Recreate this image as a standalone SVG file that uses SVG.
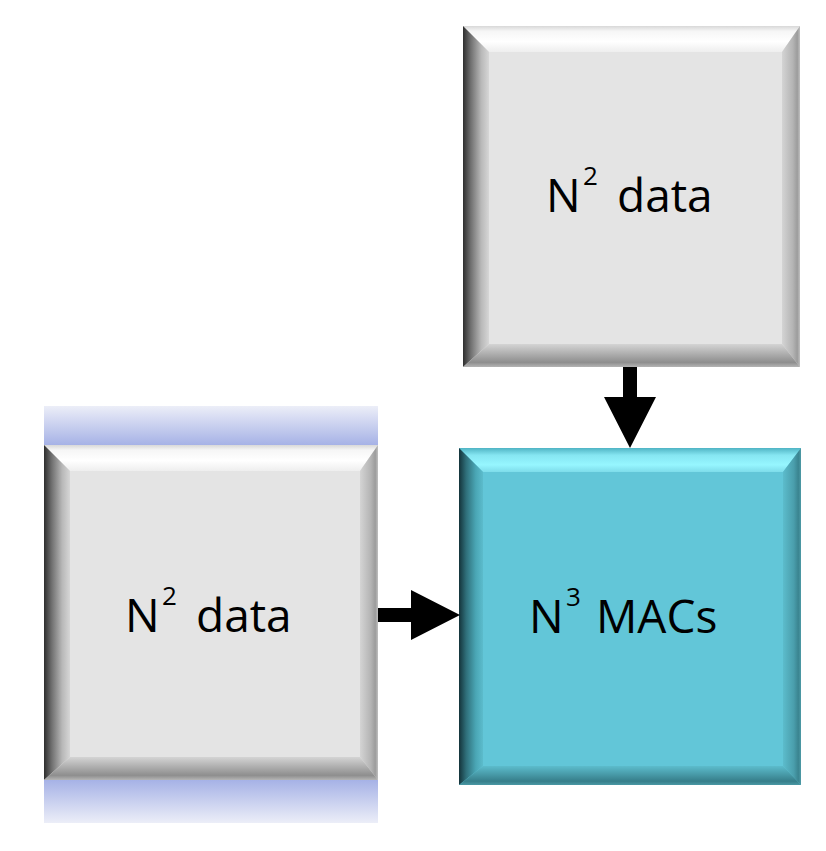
<svg xmlns="http://www.w3.org/2000/svg" width="826" height="851" viewBox="0 0 826 851">
<style>
.lbl{font-family:"Open Sans","Noto Sans","Liberation Sans",sans-serif;font-size:46px;fill:#000}
.sup{font-size:26px}
</style>
<defs>
<linearGradient id="gL" x1="0" y1="0" x2="1" y2="0">
<stop offset="0" stop-color="#2e2e2e"/><stop offset="0.3" stop-color="#707070"/><stop offset="0.7" stop-color="#b8b8b8"/><stop offset="1" stop-color="#d6d6d6"/>
</linearGradient>
<linearGradient id="gT" x1="0" y1="0" x2="0" y2="1">
<stop offset="0" stop-color="#d8d8d8"/><stop offset="0.2" stop-color="#f6f6f6"/><stop offset="0.6" stop-color="#ffffff"/><stop offset="1" stop-color="#eeeeee"/>
</linearGradient>
<linearGradient id="gR" x1="0" y1="0" x2="1" y2="0">
<stop offset="0" stop-color="#d4d4d4"/><stop offset="0.6" stop-color="#b4b4b4"/><stop offset="0.85" stop-color="#9c9c9c"/><stop offset="1" stop-color="#c0c0c0"/>
</linearGradient>
<linearGradient id="gB" x1="0" y1="0" x2="0" y2="1">
<stop offset="0" stop-color="#d4d4d4"/><stop offset="0.5" stop-color="#a8a8a8"/><stop offset="0.8" stop-color="#8e8e8e"/><stop offset="1" stop-color="#b4b4b4"/>
</linearGradient>
<linearGradient id="cL" x1="0" y1="0" x2="1" y2="0">
<stop offset="0" stop-color="#14333a"/><stop offset="0.3" stop-color="#2f6f7a"/><stop offset="0.7" stop-color="#4aa6b5"/><stop offset="1" stop-color="#5cbccc"/>
</linearGradient>
<linearGradient id="cT" x1="0" y1="0" x2="0" y2="1">
<stop offset="0" stop-color="#4fb4c4"/><stop offset="0.3" stop-color="#86e6f2"/><stop offset="0.7" stop-color="#96f6ff"/><stop offset="1" stop-color="#7edcea"/>
</linearGradient>
<linearGradient id="cR" x1="0" y1="0" x2="1" y2="0">
<stop offset="0" stop-color="#5cbccc"/><stop offset="0.6" stop-color="#4a9eac"/><stop offset="0.85" stop-color="#3a8490"/><stop offset="1" stop-color="#4e9aa6"/>
</linearGradient>
<linearGradient id="cB" x1="0" y1="0" x2="0" y2="1">
<stop offset="0" stop-color="#5cbccc"/><stop offset="0.5" stop-color="#4596a3"/><stop offset="0.8" stop-color="#367e8a"/><stop offset="1" stop-color="#4a98a4"/>
</linearGradient>
<linearGradient id="bandTop" x1="0" y1="0" x2="0" y2="1">
<stop offset="0" stop-color="#eceef8"/><stop offset="1" stop-color="#a6b2e6"/>
</linearGradient>
<linearGradient id="bandBot" x1="0" y1="0" x2="0" y2="1">
<stop offset="0" stop-color="#a6b2e6"/><stop offset="1" stop-color="#eceef8"/>
</linearGradient>
</defs>

<g id="node-top">
<rect x="463" y="26" width="337" height="341" fill="#e4e4e4"/>
<polygon points="463,26 800,26 782,52 489,52" fill="url(#gT)"/>
<polygon points="463,26 489,52 489,344 463,367" fill="url(#gL)"/>
<polygon points="800,26 800,367 782,344 782,52" fill="url(#gR)"/>
<polygon points="463,367 800,367 782,344 489,344" fill="url(#gB)"/>
<text class="lbl" x="546" y="212">N</text>
<text class="lbl sup" x="583" y="185">2</text>
<text class="lbl" x="617" y="212">data</text>
</g>

<g id="node-left">
<rect x="44" y="406" width="334" height="39" fill="url(#bandTop)"/>
<rect x="44" y="780" width="334" height="43" fill="url(#bandBot)"/>
<rect x="44" y="445" width="334" height="335" fill="#e4e4e4"/>
<polygon points="44,445 378,445 360,471 70,471" fill="url(#gT)"/>
<polygon points="44,445 70,471 70,757 44,780" fill="url(#gL)"/>
<polygon points="378,445 378,780 360,757 360,471" fill="url(#gR)"/>
<polygon points="44,780 378,780 360,757 70,757" fill="url(#gB)"/>
<text class="lbl" x="125" y="632">N</text>
<text class="lbl sup" x="162" y="605">2</text>
<text class="lbl" x="196" y="632">data</text>
</g>

<g id="node-macs">
<rect x="459" y="448" width="342" height="337" fill="#62c6d8"/>
<polygon points="459,448 801,448 783,472 483,472" fill="url(#cT)"/>
<polygon points="459,448 483,472 483,766 459,785" fill="url(#cL)"/>
<polygon points="801,448 801,785 783,766 783,472" fill="url(#cR)"/>
<polygon points="459,785 801,785 783,766 483,766" fill="url(#cB)"/>
<text class="lbl" x="529" y="633">N</text>
<text class="lbl sup" x="566" y="606">3</text>
<text class="lbl" x="596" y="633">MACs</text>
</g>

<g id="connectors" fill="#000">
<polygon points="623,367 637,367 637,397 656,397 630,448 604,397 623,397"/>
<polygon points="378,608 411,608 411,590 460,615 411,640 411,622 378,622"/>
</g>
</svg>
